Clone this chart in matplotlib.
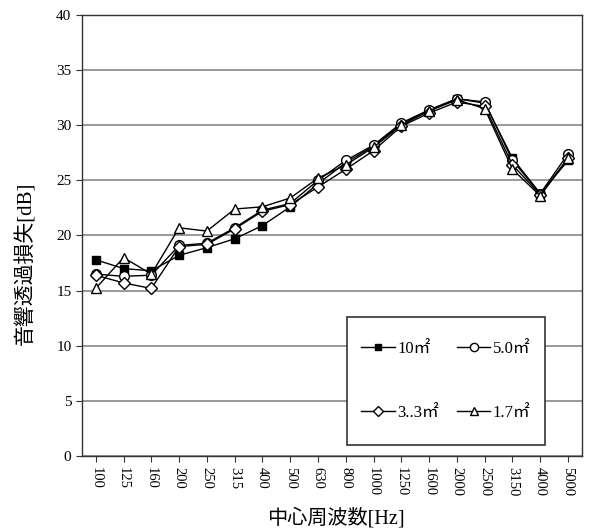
import matplotlib
matplotlib.use("Agg")
import matplotlib.pyplot as plt
from matplotlib.patches import Rectangle

plt.rcParams['font.family'] = ['Liberation Serif', 'Noto Sans CJK JP', 'DejaVu Sans']

freqs = ["100", "125", "160", "200", "250", "315", "400", "500", "630", "800",
         "1000", "1250", "1600", "2000", "2500", "3150", "4000", "5000"]

s10 = [17.8, 17.0, 16.8, 18.2, 18.9, 19.7, 20.9, 22.6, 24.7, 26.6, 28.1, 30.1, 31.3, 32.4, 32.0, 27.0, 23.8, 26.8]
s50 = [16.5, 16.3, 16.4, 19.1, 19.3, 20.7, 22.3, 22.9, 25.0, 26.8, 28.2, 30.2, 31.4, 32.4, 32.1, 26.8, 23.8, 27.4]
s33 = [16.4, 15.7, 15.2, 19.0, 19.2, 20.6, 22.2, 22.8, 24.4, 26.0, 27.7, 29.9, 31.1, 32.1, 31.7, 26.4, 23.7, 27.0]
s17 = [15.2, 18.0, 16.5, 20.7, 20.4, 22.4, 22.6, 23.4, 25.2, 26.4, 28.0, 30.0, 31.3, 32.3, 31.5, 26.0, 23.6, 27.0]

labels = ["10㎡", "5.0㎡", "3..3㎡", "1.7㎡"]

fig = plt.figure(figsize=(5.89, 5.31), dpi=100)
ax = fig.add_axes([0.139, 0.141, 0.849, 0.831])

x = list(range(len(freqs)))
h1, = ax.plot(x, s10, color='black', lw=1.0, marker='s', ms=5.5, mfc='black', mec='black', label=labels[0], zorder=3)
h2, = ax.plot(x, s50, color='black', lw=1.0, marker='o', ms=7, mfc='white', mec='black', label=labels[1], zorder=3)
h3, = ax.plot(x, s33, color='black', lw=1.0, marker='D', ms=6, mfc='white', mec='black', label=labels[2], zorder=3)
h4, = ax.plot(x, s17, color='black', lw=1.0, marker='^', ms=7, mfc='white', mec='black', label=labels[3], zorder=3)

ax.set_xlim(-0.5, len(freqs) - 0.5)
ax.set_ylim(0, 40)
ax.set_yticks(range(0, 41, 5))
ax.set_xticks(x)
ax.set_xticklabels(freqs, rotation=270, fontsize=10.5)
ax.tick_params(axis='y', labelsize=11, direction='out', length=4, color='#333333')
ax.tick_params(axis='x', direction='out', length=4, color='#333333')
ax.yaxis.grid(True, color='#888888', lw=1.2)
ax.set_axisbelow(True)
for sp in ax.spines.values():
    sp.set_color('#333333')
    sp.set_linewidth(1.0)

ax.set_ylabel("音響透過損失[dB]", fontsize=15)
ax.yaxis.set_label_coords(-0.09, 0.438)
ax.set_xlabel("中心周波数[Hz]", fontsize=14.5)
ax.xaxis.set_label_coords(0.508, -0.118)

# legend frame
bx, by, bw, bh = 0.53, 0.025, 0.396, 0.29
ax.add_patch(Rectangle((bx, by), bw, bh, transform=ax.transAxes, facecolor='white',
                       edgecolor='#333333', lw=1.2, zorder=4))

# row-major order: 10, 5.0 / 3..3, 1.7 (matplotlib fills column-wise)
leg = ax.legend(handles=[h1, h3, h2, h4], ncol=2, loc='center',
                bbox_to_anchor=(bx + bw / 2, by + bh / 2),
                frameon=False, fontsize=12, labelspacing=2.9, handlelength=2.0,
                handletextpad=0.15, borderpad=0, columnspacing=1.1,
                borderaxespad=0, markerscale=0.85)
leg.set_zorder(5)

fig.savefig("out.png", dpi=100)
